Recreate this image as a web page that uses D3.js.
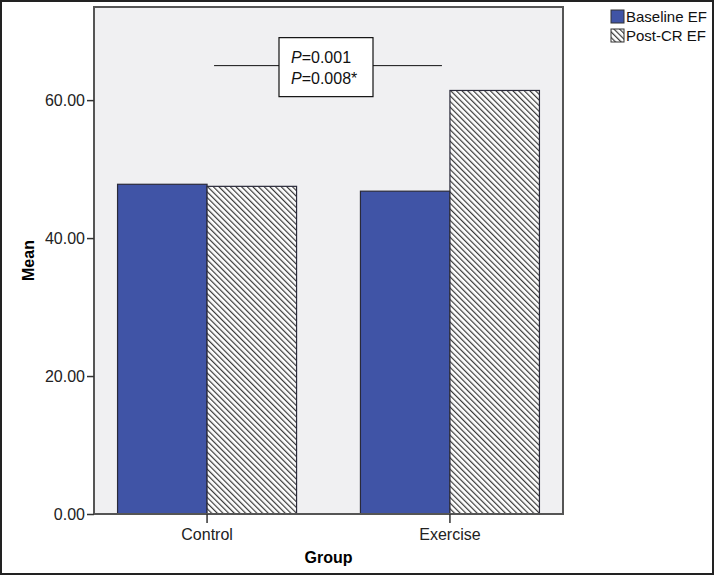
<!DOCTYPE html>
<html>
<head>
<meta charset="utf-8">
<script src="https://cdn.jsdelivr.net/npm/d3@7"></script>
<style>
  body { margin: 0; background: #fff; }
  svg { display: block; font-family: "Liberation Sans", Arial, sans-serif; }
</style>
</head>
<body>
<div id="chart"></div>
<script>
// Data
const groups = ["Control", "Exercise"];
const seriesNames = ["Baseline EF", "Post-CR EF"];
const baselineEF = [47.8, 46.8];
const postEF = [47.5, 61.4];
const yTicks = [0, 20, 40, 60];
const pLines = ["0.001", "0.008*"];
const pLevel = 65;

const W = 714, H = 576;
const margin = { top: 7, right: 151, bottom: 62, left: 94 };
const width = W - margin.left - margin.right,
    height = H - margin.top - margin.bottom;

const svg = d3.select("#chart").append("svg")
    .attr("width", W)
    .attr("height", H);

// outer frame of the figure
svg.append("rect")
    .attr("x", 1).attr("y", 1)
    .attr("width", W - 2).attr("height", H - 3)
    .attr("fill", "#fff")
    .attr("stroke", "#222")
    .attr("stroke-width", 2);

// hatch pattern (lines running top-left to bottom-right)
const defs = svg.append("defs");
const pat = defs.append("pattern")
    .attr("id", "hatch")
    .attr("patternUnits", "userSpaceOnUse")
    .attr("width", 4).attr("height", 4)
    .attr("patternTransform", "rotate(-45)");
pat.append("rect").attr("width", 4).attr("height", 4).attr("fill", "#fff");
pat.append("line")
    .attr("x1", 0).attr("y1", 0).attr("x2", 0).attr("y2", 4)
    .attr("stroke", "#3a3a3a").attr("stroke-width", 2.4);

const g = svg.append("g")
    .attr("transform", "translate(" + margin.left + "," + margin.top + ")");

const x = d3.scaleBand()
    .domain(groups)
    .range([0, width])
    .paddingInner(0.263)
    .paddingOuter(0.097);

const xs = d3.scaleBand()
    .domain(seriesNames)
    .range([0, x.bandwidth()]);

const y = d3.scaleLinear()
    .domain([0, 73.5])
    .range([height, 0]);

// plot background
g.append("rect")
    .attr("width", width).attr("height", height)
    .attr("fill", "#f0f0f2");

const data = groups.map((grp, i) => ({ group: grp, values: [baselineEF[i], postEF[i]] }));

const bars = g.selectAll(".grp")
    .data(data)
    .enter().append("g")
    .attr("transform", d => "translate(" + x(d.group) + ",0)");

bars.selectAll("rect")
    .data(d => d.values.map((v, j) => ({ key: seriesNames[j], value: v })))
    .enter().append("rect")
    .attr("x", d => xs(d.key))
    .attr("y", d => y(d.value))
    .attr("width", xs.bandwidth())
    .attr("height", d => height - y(d.value))
    .attr("fill", d => d.key === seriesNames[0] ? "#4054a6" : "url(#hatch)")
    .attr("stroke", "#2a2a3a")
    .attr("stroke-width", 1.2);

// plot frame
g.append("rect")
    .attr("width", width).attr("height", height)
    .attr("fill", "none")
    .attr("stroke", "#555")
    .attr("stroke-width", 2);

// axes
const yAxis = g.append("g")
    .call(d3.axisLeft(y).tickValues(yTicks).tickFormat(d3.format(".2f")).tickSize(7).tickSizeOuter(0));
yAxis.select(".domain").remove();
yAxis.selectAll("line").attr("stroke", "#333").attr("stroke-width", 1.5);
yAxis.selectAll("text").attr("font-size", 16).attr("fill", "#222")
    .attr("font-family", "Liberation Sans, Arial, sans-serif").attr("x", -9);

const xAxis = g.append("g")
    .attr("transform", "translate(0," + height + ")")
    .call(d3.axisBottom(x).tickSize(9).tickSizeOuter(0));
xAxis.select(".domain").remove();
xAxis.selectAll("line").attr("stroke", "#333").attr("stroke-width", 1.5);
xAxis.selectAll("text").attr("font-size", 16).attr("fill", "#222")
    .attr("font-family", "Liberation Sans, Arial, sans-serif").attr("dy", "0.85em");

// axis titles
g.append("text")
    .attr("x", width / 2)
    .attr("y", height + 49)
    .attr("text-anchor", "middle")
    .attr("font-size", 16).attr("font-weight", "bold")
    .text("Group");

g.append("text")
    .attr("transform", "rotate(-90)")
    .attr("x", -height / 2)
    .attr("y", -60)
    .attr("text-anchor", "middle")
    .attr("font-size", 16).attr("font-weight", "bold")
    .text("Mean");

// significance annotation
const lx1 = x("Control") + x.bandwidth() / 2 + 7,
    lx2 = x("Exercise") + x.bandwidth() / 2 - 8;
g.append("line")
    .attr("x1", lx1).attr("x2", lx2)
    .attr("y1", y(pLevel)).attr("y2", y(pLevel))
    .attr("stroke", "#111").attr("stroke-width", 1);

const cx = (lx1 + lx2) / 2 - 2;
g.append("rect")
    .attr("x", cx - 47).attr("y", y(pLevel) - 28)
    .attr("width", 94).attr("height", 59)
    .attr("fill", "#fff").attr("stroke", "#111").attr("stroke-width", 1.2);

pLines.forEach((p, i) => {
    const t = g.append("text")
        .attr("x", cx - 35)
        .attr("y", y(pLevel) - 3 + i * 21)
        .attr("font-size", 16).attr("fill", "#111");
    t.append("tspan").attr("font-style", "italic").text("P");
    t.append("tspan").text("=" + p);
});

// legend
const legend = svg.append("g").attr("transform", "translate(611,10)");
seriesNames.forEach((s, i) => {
    legend.append("rect")
        .attr("x", 0).attr("y", i * 19)
        .attr("width", 13).attr("height", 13)
        .attr("fill", i === 0 ? "#4054a6" : "url(#hatch)")
        .attr("stroke", "#333").attr("stroke-width", 1);
    legend.append("text")
        .attr("x", 15).attr("y", i * 19 + 12)
        .attr("font-size", 15).attr("fill", "#111")
        .text(s);
});
</script>
</body>
</html>
